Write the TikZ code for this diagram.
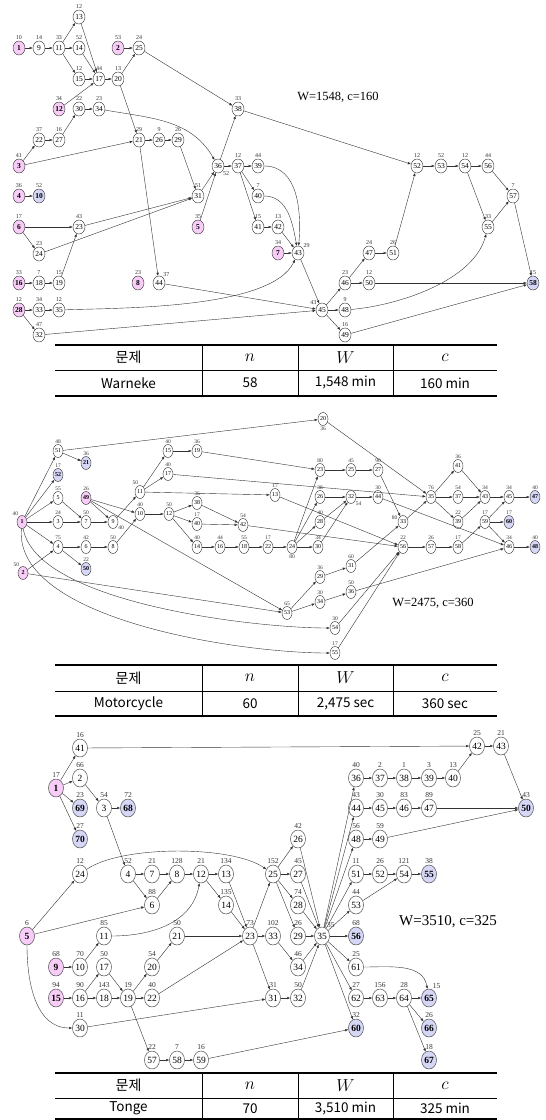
\documentclass[tikz,border=0pt]{standalone}
\usepackage{fontspec}
\setmainfont{Liberation Serif}
\newfontfamily\krfont{Noto Sans CJK KR}
\usetikzlibrary{shapes.geometric,arrows.meta}

\definecolor{srcpink}{RGB}{247,204,247}
\definecolor{snkblue}{RGB}{214,214,247}

\tikzset{
  tk/.style={ellipse,draw=black!75,line width=0.45pt,inner sep=0pt},
  ga/.style={tk,minimum width=12pt,minimum height=14pt,font=\fontsize{7.5}{8}\selectfont},
  gb/.style={tk,minimum width=10pt,minimum height=13pt,font=\fontsize{6}{6}\selectfont},
  gc/.style={tk,minimum width=15pt,minimum height=18pt,font=\fontsize{9.5}{10}\selectfont},
  wa/.style={font=\fontsize{6}{6}\selectfont,inner sep=0.6pt,text=black!80},
  wb/.style={font=\fontsize{5.5}{6}\selectfont,inner sep=0.5pt,text=black!80},
  wc/.style={font=\fontsize{7.5}{8}\selectfont,inner sep=0.6pt,text=black!80},
  ar/.style={-{Latex[length=3.2pt,width=2.6pt]},line width=0.4pt,draw=black!80},
  hd/.style={inner sep=0pt,font=\fontsize{14}{14}\selectfont},
  dt/.style={inner sep=0pt,font=\krfont\fontsize{13.5}{14}\selectfont},
  wc-text/.style={inner sep=0pt}
}

% table under each graph: top, middle, bottom, problem, n, W, c
\newcommand{\probtab}[8]{%
  \draw[line width=1.3pt] (55,-#2) -- (497,-#2);
  \draw[line width=0.7pt] (55,-#3) -- (497,-#3);
  \draw[line width=1.3pt] (55,-#4) -- (497,-#4);
  \foreach \cx in {202,298,393} \draw[line width=0.7pt] (\cx,-#2) -- (\cx,-#4);
  \node[hd] (#1h1) at (128.5,{-(#2+#3)/2}) {\krfont 문제};
  \node[hd] (#1h2) at (250,{-(#2+#3)/2}) {\fontsize{18}{18}\selectfont$n$};
  \node[hd] (#1h3) at (345.5,{-(#2+#3)/2}) {\fontsize{18}{18}\selectfont$W$};
  \node[hd] (#1h4) at (445,{-(#2+#3)/2}) {\fontsize{18}{18}\selectfont$c$};
  \node[dt] (#1d1) at (128.5,{-(#3+#4)/2}) {#5};
  \node[dt] (#1d2) at (250,{-(#3+#4)/2}) {#6};
  \node[dt] (#1d3) at (345.5,{-(#3+#4)/2}) {#7};
  \node[dt] (#1d4) at (445,{-(#3+#4)/2}) {#8};
}

\begin{document}
\begin{tikzpicture}[x=1pt,y=1pt]
\useasboundingbox[fill=white] (0,0) rectangle (546,-1120);

% ---- Warneke
\foreach \i/\x/\y/\w/\a in {9/39/48/14/90, 11/59/48/33/90, 13/79/17/12/90, 14/79/48/52/90,
  15/79/79/12/90, 17/99/79/44/90, 25/139/48/24/90, 20/118/79/13/90, 30/79/109/22/90,
  34/99/109/23/90, 22/39/140/37/90, 27/59/140/16/90, 21/139/140/29/90, 26/159/140/9/90,
  29/178/140/26/90, 38/238/109/33/90, 36/218/166/52/-50, 37/238/166/12/90, 39/258/166/44/90,
  31/198/196/51/90, 40/258/196/7/90, 23/79/227/43/90, 41/258/227/15/90, 42/278/227/13/90,
  24/39/254/23/90, 43/298/253/29/45, 47/369/253/24/90, 51/393/253/26/90, 18/39/283/7/90,
  19/59/283/15/90, 44/159/283/37/60, 46/345/283/23/90, 50/369/283/12/90, 33/39/310/34/90,
  35/59/310/12/90, 45/322/310/43/135, 48/345/310/9/90, 32/39/335/47/90, 49/345/335/16/90,
  52/417/166/12/90, 53/441/166/52/90, 54/465/166/12/90, 56/488/166/44/90, 57/513/196/7/90,
  55/488/227/33/90}
  \node[ga,label={[wa]\a:\w}] (a\i) at (\x,-\y) {\i};
\foreach \i/\x/\y/\w/\a in {1/19/48/10/90, 2/118/48/53/90, 3/19/166/41/90, 4/19/196/36/90,
  5/198/227/35/90, 6/19/227/17/90, 7/278/253/34/90, 8/138/283/23/90, 12/59/109/34/90,
  16/19/283/33/90, 28/19/310/12/90}
  \node[ga,fill=srcpink,label={[wa]\a:\w}] (a\i) at (\x,-\y) {\textbf{\i}};
\foreach \i/\x/\y/\w/\a in {10/39/196/52/90, 58/533/283/15/90}
  \node[ga,fill=snkblue,label={[wa]\a:\w}] (a\i) at (\x,-\y) {\textbf{\i}};

\foreach \u/\v in {1/9, 9/11, 11/13, 11/14, 11/15, 13/17, 14/17, 15/17, 12/17, 17/20, 20/25,
  2/25, 25/38, 20/21, 21/44, 30/34, 27/30, 22/27, 3/22, 3/21, 21/26, 26/29, 29/31, 31/36,
  5/36, 36/38, 36/37, 37/39, 37/40, 37/41, 41/42, 42/43, 7/43, 44/45, 43/45, 4/10, 6/23,
  6/24, 24/31, 23/31, 19/23, 16/18, 18/19, 28/33, 33/35, 28/32, 32/45, 45/46, 45/48, 45/49,
  46/47, 46/50, 47/51, 51/52, 52/53, 53/54, 54/56, 54/55, 56/57, 55/57, 57/58, 50/58, 49/58,
  38/52}
  \draw[ar] (a\u) -- (a\v);
\draw[ar] (a34) to[out=-10,in=120] (a36);
\draw[ar] (a39) to[out=0,in=85] (a43);
\draw[ar] (a40) to[out=0,in=100] (a43);
\draw[ar] (a35) to[out=2,in=-115,looseness=0.6] (a43);
\draw[ar] (a48) to[out=5,in=-105,looseness=0.8] (a55);
\node[wc-text,font=\fontsize{12.5}{13}\selectfont] (ta) at (338,-97) {W=1548, c=160};

\probtab{ta}{345}{370}{396}{Warneke}{58}{1,548 min}{160 min}

% ---- Motorcycle
\foreach \i/\x/\y/\w/\a in {20/323/419/36/-90, 51/58/451/48/90, 15/168/451/40/90,
  19/197/451/36/90, 17/168/474/40/90, 11/140/492/50/100, 13/275/495/17/90, 5/58/498/55/90,
  38/197/503/36/90, 10/140/514/40/90, 12/169/514/50/90, 3/58/522/24/90, 7/86/522/50/90,
  9/113/522/40/-30, 40/197/524/17/90, 42/243/525/54/90, 4/58/547/75/90, 6/86/547/42/90,
  8/113/547/50/90, 14/197/547/40/90, 16/220/547/44/90, 18/244/547/55/90, 22/268/547/17/90,
  24/292/547/80/-90, 30/318/547/34/90, 23/320/470/80/90, 25/351/470/45/90, 27/378/470/90/90,
  41/458/466/36/90, 35/431/497/76/90, 37/458/497/54/90, 43/485/497/34/90, 45/509/497/34/90,
  26/320/497/38/90, 32/351/497/54/-45, 44/378/497/30/90, 28/320/522/40/90, 33/403/522/80/160,
  39/458/522/22/90, 59/485/522/17/90, 56/403/547/22/90, 57/431/547/26/90, 58/458/547/17/90,
  46/509/547/34/90, 31/351/566/60/90, 29/320/577/36/90, 36/351/592/50/90, 34/320/602/30/90,
  53/287/613/65/90, 54/335/628/30/90, 55/335/653/17/90}
  \node[gb,label={[wb]\a:\w}] (b\i) at (\x,-\y) {\i};
\foreach \i/\x/\y/\w/\a in {1/22/522/40/120, 2/23/573/50/120, 49/86/498/26/90}
  \node[gb,fill=srcpink,label={[wb]\a:\w}] (b\i) at (\x,-\y) {\textbf{\i}};
\foreach \i/\x/\y/\w/\a in {21/86/463/36/90, 52/58/475/17/90, 50/86/569/22/90,
  47/535/497/40/90, 60/509/522/17/90, 48/535/547/40/90}
  \node[gb,fill=snkblue,label={[wb]\a:\w}] (b\i) at (\x,-\y) {\textbf{\i}};

\foreach \u/\v in {1/51, 1/52, 1/5, 1/3, 1/4, 2/4, 2/53, 51/21, 51/20, 5/7, 3/7, 7/9, 4/6,
  4/50, 6/8, 8/10, 9/11, 49/9, 49/10, 49/53, 11/15, 11/17, 11/13, 15/19, 19/23, 17/35,
  10/12, 12/38, 12/40, 12/14, 38/42, 40/42, 14/16, 16/18, 18/22, 22/24, 24/30, 24/23,
  24/26, 24/28, 20/35, 23/25, 25/27, 27/33, 26/32, 28/32, 32/44, 30/32, 33/35, 35/41,
  35/37, 35/39, 41/43, 37/43, 39/43, 43/45, 45/47, 59/45, 59/60, 59/46, 58/59, 56/57,
  57/58, 46/48, 36/46, 42/56, 13/56, 44/46, 31/33, 29/31, 53/29, 53/34, 34/36, 54/56,
  55/56}
  \draw[ar] (b\u) -- (b\v);
\draw[ar] (b1) to[out=-80,in=180,looseness=0.6] (b54);
\draw[ar] (b1) to[out=-95,in=180,looseness=0.7] (b55);
\node[wc-text,font=\fontsize{12.5}{13}\selectfont] (tb) at (433,-603) {W=2475, c=360};

\probtab{tb}{665}{691}{716}{Motorcycle}{60}{2,475 sec}{360 sec}

% ---- Tonge
\foreach \i/\x/\y/\w/\a in {41/80/748/16/90, 2/80/778/66/90, 3/104/808/54/90, 24/80/874/12/90,
  4/128/874/52/90, 7/152/874/21/90, 8/177/874/128/90, 12/201/874/21/90, 13/226/874/134/90,
  25/273/874/152/90, 6/152/905/88/90, 14/226/905/135/90, 36/356/778/40/90, 37/380/778/2/90,
  38/404/778/1/90, 39/429/778/3/90, 40/453/778/13/90, 42/477/746/25/90, 43/501/746/21/90,
  44/356/808/43/90, 45/380/808/30/90, 46/404/808/83/90, 47/429/808/89/90, 26/298/839/42/90,
  48/356/839/56/90, 49/380/839/59/90, 27/298/874/45/90, 51/356/874/11/90, 52/380/874/26/90,
  54/404/874/121/90, 28/298/905/74/90, 53/356/905/44/90, 11/104/936/85/90, 21/177/936/50/90,
  23/250/936/73/90, 33/273/936/102/90, 29/298/936/26/90, 35/322/936/35/60, 10/80/967/70/90,
  17/104/967/50/90, 20/152/967/54/90, 34/298/967/46/90, 61/356/967/25/90, 16/80/998/90/90,
  18/104/998/143/90, 19/128/998/19/90, 22/152/998/40/90, 31/273/998/31/90, 32/298/998/50/90,
  62/356/998/27/90, 63/380/998/156/90, 64/404/998/28/90, 30/80/1028/11/90, 57/152/1060/22/90,
  58/177/1060/7/90, 59/201/1060/16/90}
  \node[gc,label={[wc]\a:\w}] (c\i) at (\x,-\y) {\i};
\foreach \i/\x/\y/\w/\a in {1/56/788/17/90, 5/27/936/6/90, 9/56/967/68/90, 15/56/998/94/90}
  \node[gc,fill=srcpink,label={[wc]\a:\w}] (c\i) at (\x,-\y) {\textbf{\i}};
\foreach \i/\x/\y/\w/\a in {69/80/808/23/90, 68/128/808/72/90, 70/80/839/27/90,
  50/526/808/43/90, 55/429/874/38/90, 56/356/936/68/90, 65/429/998/15/70, 60/356/1028/32/90,
  66/429/1028/26/90, 67/429/1060/18/90}
  \node[gc,fill=snkblue,label={[wc]\a:\w}] (c\i) at (\x,-\y) {\textbf{\i}};

\foreach \u/\v in {1/41, 1/2, 1/69, 1/70, 2/3, 3/68, 3/4, 41/42, 42/43, 43/50, 40/42, 36/37,
  37/38, 38/39, 39/40, 44/45, 45/46, 46/47, 47/50, 48/49, 49/50, 51/52, 52/54, 54/55, 53/54,
  35/36, 35/44, 35/48, 35/51, 35/53, 35/56, 35/61, 35/62, 35/60, 62/63, 63/64, 64/65, 64/66,
  64/67, 4/7, 7/8, 8/12, 12/13, 4/6, 6/8, 5/6, 5/24, 12/14, 13/23, 14/23, 25/26, 25/27,
  25/28, 25/29, 26/35, 27/35, 28/35, 29/35, 34/35, 32/35, 33/34, 23/33, 23/31, 31/32, 23/25,
  21/23, 22/23, 20/21, 19/20, 19/22, 19/57, 17/19, 16/17, 16/18, 18/19, 15/16, 9/10, 10/11,
  30/31, 59/60, 57/58, 58/59}
  \draw[ar] (c\u) -- (c\v);
\draw[ar] (c24) to[out=35,in=145,looseness=0.6] (c25);
\draw[ar] (c11) to[out=0,in=-100] (c12);
\draw[ar] (c5) to[out=-90,in=180] (c30);
\draw[ar] (c61) to[out=0,in=100] (c65);
\node[wc-text,font=\fontsize{15}{15}\selectfont] (tc) at (448,-922) {W=3510, c=325};

\probtab{tc}{1073}{1098}{1119}{Tonge}{70}{3,510 min}{325 min}
\end{tikzpicture}
\end{document}
